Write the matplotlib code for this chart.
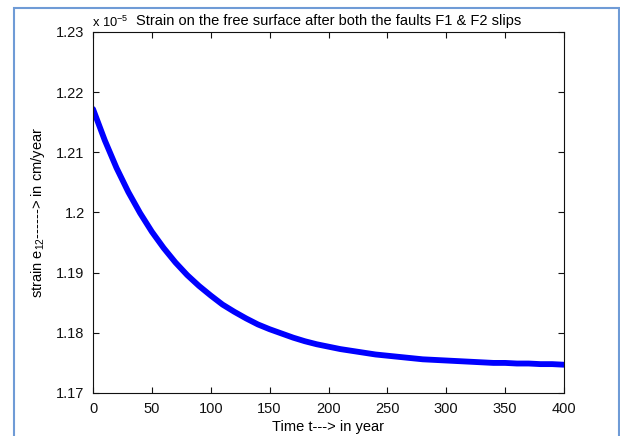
import numpy as np
import matplotlib
matplotlib.use('Agg')
import matplotlib.pyplot as plt
from matplotlib.patches import Rectangle
from matplotlib.ticker import FuncFormatter

# strain values, in units of 1e-5
t_years = [0, 10, 20, 30, 40, 50, 60, 70, 80, 90, 100, 110, 120, 130, 140,
           150, 160, 170, 180, 190, 200, 210, 220, 230, 240, 250, 260, 270,
           280, 290, 300, 310, 320, 330, 340, 350, 360, 370, 380, 390, 400]
strain = [1.2172, 1.2120, 1.2074, 1.2034, 1.1999, 1.1968, 1.1941, 1.1917,
          1.1896, 1.1878, 1.1862, 1.1847, 1.1835, 1.1824, 1.1814, 1.1806,
          1.1799, 1.1792, 1.1786, 1.1781, 1.1777, 1.1773, 1.1770, 1.1767,
          1.1764, 1.1762, 1.1760, 1.1758, 1.1756, 1.1755, 1.1754, 1.1753,
          1.1752, 1.1751, 1.1750, 1.1750, 1.1749, 1.1749, 1.1748, 1.1748,
          1.1747]
x_ticks = [0, 50, 100, 150, 200, 250, 300, 350, 400]
y_ticks = [1.17, 1.18, 1.19, 1.20, 1.21, 1.22, 1.23]

plt.rcParams['font.family'] = ['Liberation Sans', 'DejaVu Sans']
plt.rcParams['mathtext.fontset'] = 'custom'
plt.rcParams['mathtext.rm'] = 'Liberation Sans'
plt.rcParams['mathtext.it'] = 'Liberation Sans'
fs = 10.5

fig = plt.figure(figsize=(6.2, 4.36), dpi=100)
ax = fig.add_axes([93 / 620, 43 / 436, 471 / 620, 361 / 436])

ax.plot(t_years, strain, color='#0000ff', linewidth=4.2, solid_capstyle='round')

ax.set_xlim(0, 400)
ax.set_ylim(1.17, 1.23)
ax.set_xticks(x_ticks)
ax.set_yticks(y_ticks)
ax.yaxis.set_major_formatter(FuncFormatter(lambda v, p: '%g' % round(v, 4)))
ax.tick_params(direction='in', length=4, width=0.8, top=True, right=True,
               labelsize=fs, colors='#111111')
ax.tick_params(axis='x', pad=6.5)
ax.tick_params(axis='y', pad=6)
for s in ax.spines.values():
    s.set_linewidth(0.8)
    s.set_color('#111111')

ax.set_xlabel('Time t---> in year', fontsize=fs, labelpad=3)
ax.set_ylabel('strain e$_{12}$------> in cm/year', fontsize=fs, labelpad=7)
ax.set_title('Strain on the free surface after both the faults F1 & F2 slips',
             fontsize=fs, pad=5)
ax.text(-0.002, 1.006, 'x 10$^{\\mathregular{-5}}$', transform=ax.transAxes,
        fontsize=9.3, ha='left', va='bottom')

# light blue frame around the figure
fig.patches.append(Rectangle((14 / 620, -0.02), 605 / 620, 1.02 - 8 / 436,
                             transform=fig.transFigure, fill=False,
                             edgecolor='#6f9bd6', linewidth=1.5))

fig.savefig('out.png', dpi=100, facecolor='white')
